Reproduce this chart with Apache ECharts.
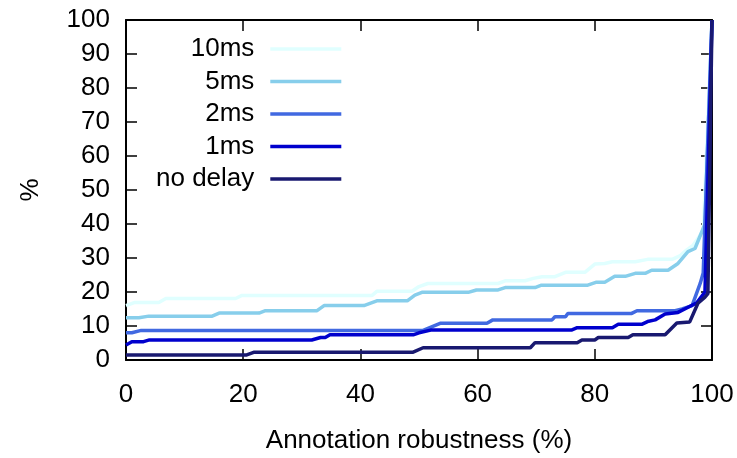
<!DOCTYPE html>
<html>
<head>
<meta charset="utf-8">
<script src="https://cdn.jsdelivr.net/npm/echarts@6/dist/echarts.min.js"></script>
<style>
  html, body { margin: 0; padding: 0; background: #fff; }
  #chart { width: 737px; height: 458px; }
</style>
</head>
<body>
<div id="chart"></div>
<script>
// Cumulative share (%) against annotation robustness (%), one curve per delay setting.
const seriesNames = ['10ms', '5ms', '2ms', '1ms', 'no delay'];
const seriesColors = ['#e0ffff', '#87ceeb', '#4169e1', '#0000cd', '#191970'];

const x10ms = [0, 1.4, 5.6, 6.8, 18.7, 19.8, 42, 42.8, 48.8, 50, 51.5, 63.5, 64.7, 68.1, 69.5, 71, 73.2, 75, 78.3, 80, 81.7, 83, 86.9, 89, 93.2, 94.5, 95.7, 96.8, 98.5, 100];
const y10ms = [16.0, 16.9, 16.9, 18.1, 18.1, 19.0, 19.0, 20.2, 20.2, 21.6, 22.5, 22.5, 23.3, 23.3, 24.0, 24.5, 24.5, 25.8, 25.8, 28.2, 28.4, 28.9, 28.9, 29.6, 29.6, 30.6, 32.4, 33.8, 38, 100];

const x5ms = [0, 2.2, 3.9, 14.7, 15.9, 22.7, 23.8, 32.6, 33.8, 40.6, 42.8, 48, 49.3, 50.5, 58.4, 59.8, 63.5, 64.7, 69.8, 70.9, 78.8, 80.3, 81.7, 83.4, 85.2, 86.9, 88.6, 89.7, 92.5, 94.2, 95.9, 97.1, 98.8, 100];
const y5ms = [12.4, 12.4, 12.9, 12.9, 13.8, 13.8, 14.5, 14.5, 16.0, 16.0, 17.4, 17.4, 19.1, 19.9, 19.9, 20.6, 20.6, 21.3, 21.3, 22.0, 22.0, 22.9, 22.9, 24.6, 24.6, 25.5, 25.5, 26.4, 26.4, 28.4, 31.9, 32.8, 40, 100];

const x2ms = [0, 1, 2.6, 50.7, 53.6, 61.6, 62.6, 72.7, 73.2, 75, 75.4, 86.3, 87.2, 93.7, 94.9, 96.6, 98, 98.5, 100];
const y2ms = [8.0, 8.0, 8.7, 8.7, 10.8, 10.8, 11.8, 11.8, 12.7, 12.7, 13.7, 13.7, 14.5, 14.5, 15.0, 16.0, 22.6, 25.6, 100];

const x1ms = [0, 1, 3, 4, 31.7, 33.2, 34, 34.8, 49, 50, 52, 76, 77, 83, 84, 88, 89, 90.3, 92, 94.2, 96, 97.4, 98.8, 100];
const y1ms = [4.4, 5.4, 5.4, 5.9, 5.9, 6.6, 6.6, 7.4, 7.4, 8.0, 8.8, 8.8, 9.5, 9.5, 10.5, 10.5, 11.3, 11.8, 13.5, 14.0, 15.6, 16.8, 20, 100];

const xNoDelay = [0, 20.6, 21.9, 49, 50.7, 69, 69.8, 77, 77.8, 80, 80.6, 85.7, 86.5, 92, 94, 96.2, 97.6, 98.8, 99.3, 100];
const yNoDelay = [1.5, 1.5, 2.3, 2.3, 3.6, 3.6, 5.1, 5.1, 5.9, 5.9, 6.6, 6.6, 7.4, 7.4, 10.9, 11.2, 16.7, 18.5, 19.5, 100];

const xTicks = [0, 20, 40, 60, 80, 100];
const yTicks = [0, 10, 20, 30, 40, 50, 60, 70, 80, 90, 100];

const xValues = [x10ms, x5ms, x2ms, x1ms, xNoDelay];
const yValues = [y10ms, y5ms, y2ms, y1ms, yNoDelay];

const FONT = '"Liberation Sans", Arial, Helvetica, sans-serif';
const FS = 26;

function zip(xs, ys) {
  return xs.map((v, i) => [v, ys[i]]);
}

const series = seriesNames.map((name, i) => ({
  name: name,
  type: 'line',
  xAxisIndex: 0,
  yAxisIndex: 0,
  data: zip(xValues[i], yValues[i]),
  symbol: 'none',
  smooth: false,
  z: 2 + i,
  lineStyle: { color: seriesColors[i], width: 3.5 },
  itemStyle: { color: seriesColors[i] },
  animation: false
}));

const axisLineStyle = { show: true, onZero: false, lineStyle: { color: '#000', width: 2 } };
const tickStyle = { show: true, inside: true, length: 11, lineStyle: { color: '#000', width: 1.5 } };

const chart = echarts.init(document.getElementById('chart'), null, { renderer: 'canvas' });
chart.setOption({
  animation: false,
  backgroundColor: '#fff',
  textStyle: { fontFamily: FONT },
  grid: { left: 126, right: 25, top: 20, bottom: 98, outerBoundsMode: 'none' },
  legend: {
    data: seriesNames,
    orient: 'vertical',
    align: 'right',
    icon: 'rect',
    left: 156,
    top: 36,
    padding: 0,
    itemWidth: 71,
    itemHeight: 3.5,
    itemGap: 6.5,
    selectedMode: false,
    textStyle: { fontFamily: FONT, fontSize: FS, color: '#000', lineHeight: 26, padding: [0, 11, 0, 0] }
  },
  xAxis: [
    {
      type: 'value', position: 'bottom', min: 0, max: 100, interval: 20,
      name: 'Annotation robustness (%)', nameLocation: 'middle', nameGap: 68,
      nameTextStyle: { fontFamily: FONT, fontSize: FS, color: '#000' },
      axisLine: axisLineStyle, axisTick: tickStyle, splitLine: { show: false },
      axisLabel: { fontFamily: FONT, fontSize: FS, color: '#000', margin: 22,
        customValues: xTicks }
    },
    {
      type: 'value', position: 'top', min: 0, max: 100, interval: 20,
      axisLine: axisLineStyle, axisTick: tickStyle, splitLine: { show: false },
      axisLabel: { show: false }
    }
  ],
  yAxis: [
    {
      type: 'value', position: 'left', min: 0, max: 100, interval: 10,
      name: '%', nameLocation: 'middle', nameGap: 82, nameRotate: 90,
      nameTextStyle: { fontFamily: FONT, fontSize: FS, color: '#000' },
      axisLine: axisLineStyle, axisTick: tickStyle, splitLine: { show: false },
      axisLabel: { fontFamily: FONT, fontSize: FS, color: '#000', margin: 16,
        customValues: yTicks }
    },
    {
      type: 'value', position: 'right', min: 0, max: 100, interval: 10,
      axisLine: axisLineStyle, axisTick: tickStyle, splitLine: { show: false },
      axisLabel: { show: false }
    }
  ],
  series: series
});
</script>
</body>
</html>
